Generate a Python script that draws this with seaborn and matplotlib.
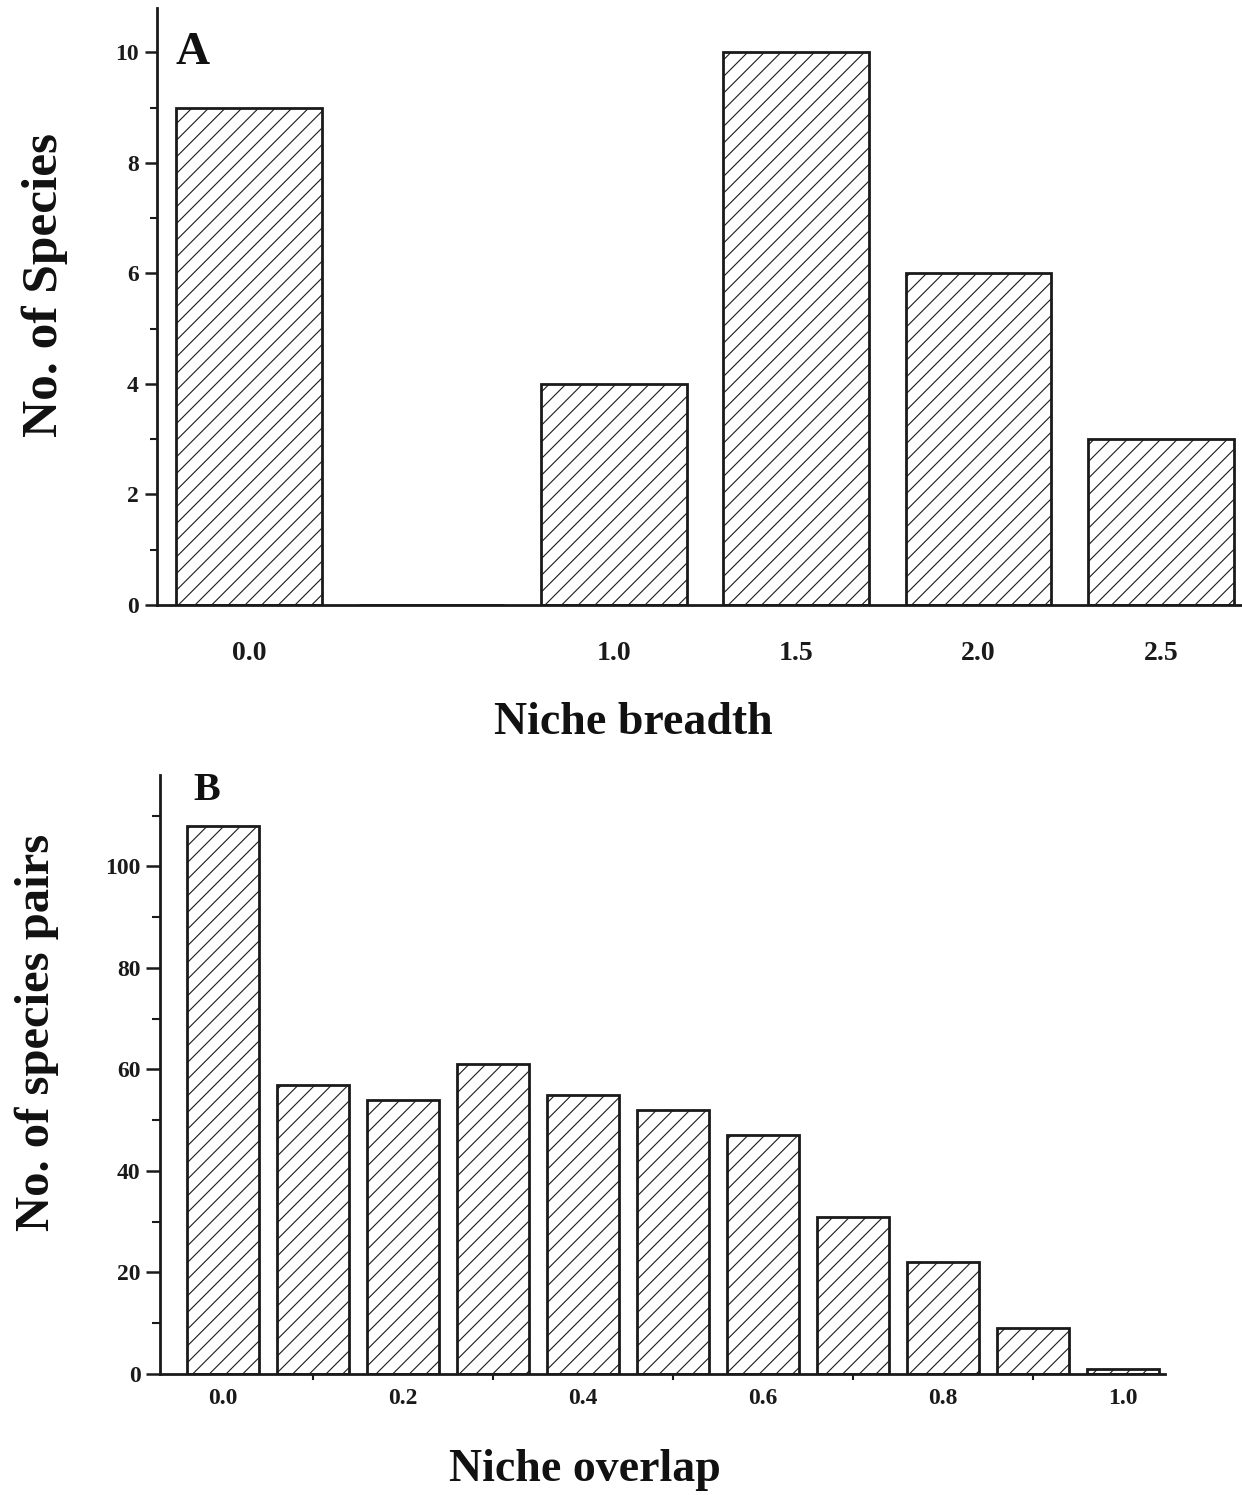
import numpy as np
import pandas as pd
import matplotlib
matplotlib.use("Agg")
import matplotlib.pyplot as plt
from matplotlib.ticker import MultipleLocator, FixedLocator, NullLocator
import seaborn as sns

# Panel A: niche breadth classes and species counts
breadth_classes = [0.0, 0.5, 1.0, 1.5, 2.0, 2.5]
breadth_counts = [9, 0, 4, 10, 6, 3]
breadth_ticks = [0.0, 1.0, 1.5, 2.0, 2.5]
breadth_ticklabels = ["0.0", "1.0", "1.5", "2.0", "2.5"]

# Panel B: niche overlap classes and species-pair counts
overlap_classes = [0.0, 0.1, 0.2, 0.3, 0.4, 0.5, 0.6, 0.7, 0.8, 0.9, 1.0]
overlap_counts = [108, 57, 54, 61, 55, 52, 47, 31, 22, 9, 1]
overlap_ticks = [0.0, 0.2, 0.4, 0.6, 0.8, 1.0]
overlap_ticklabels = ["0.0", "0.2", "0.4", "0.6", "0.8", "1.0"]

sns.set_theme(style="ticks")
plt.rcParams["font.family"] = ["Liberation Serif", "DejaVu Serif"]
plt.rcParams["font.weight"] = "bold"
plt.rcParams["hatch.linewidth"] = 0.8
plt.rcParams["hatch.color"] = "#444444"

W, H = 1242, 1495
fig = plt.figure(figsize=(W / 100, H / 100), dpi=100)


def frac_box(left, top, right, bottom):
    return [left / W, 1 - bottom / H, (right - left) / W, (bottom - top) / H]


axA = fig.add_axes(frac_box(157, 8, 1241, 605))
axB = fig.add_axes(frac_box(160, 775, 1165, 1374))

dfA = pd.DataFrame({"breadth": breadth_classes, "count": breadth_counts})
dfB = pd.DataFrame({"overlap": overlap_classes, "count": overlap_counts})

sns.barplot(data=dfA, x="breadth", y="count", native_scale=True, width=0.8,
            color="white", edgecolor="#1a1a1a", linewidth=2.0, ax=axA)
sns.barplot(data=dfB, x="overlap", y="count", native_scale=True, width=0.8,
            color="white", edgecolor="#1a1a1a", linewidth=2.0, ax=axB)

for ax in (axA, axB):
    for p in ax.patches:
        p.set_hatch("//")
        p.set_facecolor("white")
    sns.despine(ax=ax)
    for side in ("left", "bottom"):
        ax.spines[side].set_linewidth(2.0)
        ax.spines[side].set_color("#1a1a1a")
    ax.set_xlabel("")
    ax.set_ylabel("")
    ax.set_facecolor("white")

# Panel A axes
axA.set_xlim(-0.253, 2.72)
axA.set_ylim(0, 10.8)
axA.xaxis.set_major_locator(FixedLocator(breadth_ticks))
axA.set_xticklabels(breadth_ticklabels)
axA.xaxis.set_minor_locator(NullLocator())
axA.yaxis.set_major_locator(FixedLocator([0, 2, 4, 6, 8, 10]))
axA.yaxis.set_minor_locator(MultipleLocator(1))
axA.tick_params(axis="x", which="both", length=0, pad=26, labelsize=20)
axA.tick_params(axis="y", which="major", length=9, width=1.8, pad=4,
                labelsize=17, direction="out", color="#1a1a1a")
axA.tick_params(axis="y", which="minor", length=5, width=1.5,
                direction="out", color="#1a1a1a")

# Panel B axes
axB.set_xlim(-0.07, 1.047)
axB.set_ylim(0, 118)
axB.xaxis.set_major_locator(FixedLocator(overlap_ticks))
axB.set_xticklabels(overlap_ticklabels)
axB.xaxis.set_minor_locator(FixedLocator([0.1, 0.3, 0.5, 0.7, 0.9]))
axB.yaxis.set_major_locator(FixedLocator([0, 20, 40, 60, 80, 100]))
axB.yaxis.set_minor_locator(FixedLocator([10, 30, 50, 70, 90, 110]))
axB.tick_params(axis="x", which="major", length=0, pad=10, labelsize=17)
axB.tick_params(axis="x", which="minor", length=9, width=1.5,
                direction="inout", color="#1a1a1a")
axB.tick_params(axis="y", which="major", length=10, width=1.8, pad=4,
                labelsize=17, direction="out", color="#1a1a1a")
axB.tick_params(axis="y", which="minor", length=6, width=1.5,
                direction="out", color="#1a1a1a")

for ax in (axA, axB):
    for lab in ax.get_xticklabels() + ax.get_yticklabels():
        lab.set_fontweight("bold")
        lab.set_color("#1a1a1a")

# Panel letters
axA.text(0.017, 0.96, "A", transform=axA.transAxes, fontsize=34,
         fontweight="bold", ha="left", va="top", color="#111111")
axB.text(0.033, 1.005, "B", transform=axB.transAxes, fontsize=29,
         fontweight="bold", ha="left", va="top", color="#111111")

# Axis titles
fig.text(45 / W, 1 - 285 / H, "No. of Species", rotation=90, fontsize=37,
         fontweight="bold", ha="center", va="center", color="#111111")
fig.text(37 / W, 1 - 1032 / H, "No. of species pairs", rotation=90,
         fontsize=35, fontweight="bold", ha="center", va="center",
         color="#111111")
fig.text(633 / W, 1 - 734 / H, "Niche breadth", fontsize=33,
         fontweight="bold", ha="center", va="baseline", color="#111111")
fig.text(585 / W, 1 - 1481 / H, "Niche overlap", fontsize=33,
         fontweight="bold", ha="center", va="baseline", color="#111111")

fig.savefig("out.png", dpi=100, facecolor="white")
